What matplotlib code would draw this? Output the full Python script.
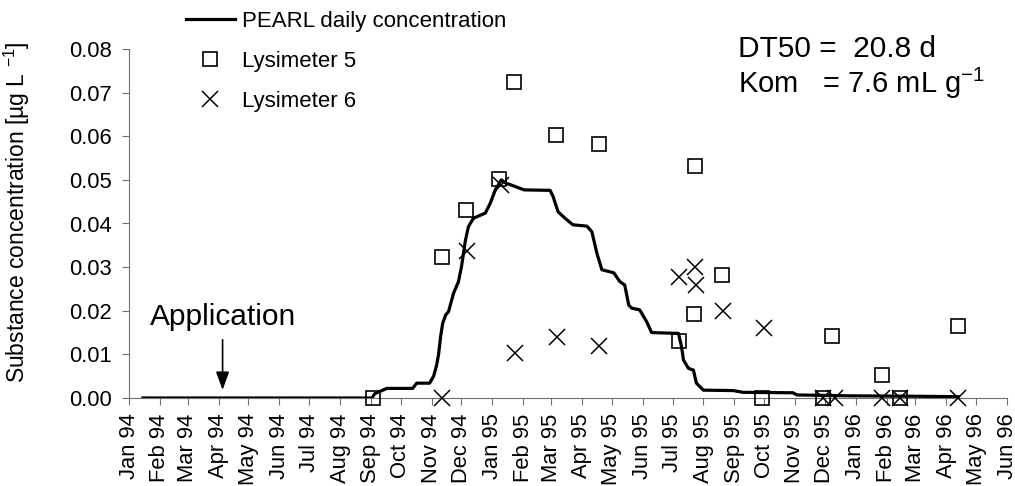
import pandas as pd
import numpy as np
import matplotlib.pyplot as plt
import matplotlib.dates as mdates

plt.rcParams['font.family'] = ['Liberation Sans', 'DejaVu Sans']

# PEARL simulated daily concentration
pearl_dates = ['1994-01-15', '1994-09-02', '1994-09-05', '1994-09-10', '1994-09-17',
               '1994-10-13', '1994-10-17', '1994-10-30', '1994-11-03', '1994-11-06',
               '1994-11-08', '1994-11-10', '1994-11-12', '1994-11-15', '1994-11-18',
               '1994-11-23', '1994-11-28', '1994-12-01', '1994-12-05', '1994-12-08',
               '1994-12-13', '1994-12-25', '1994-12-30', '1995-01-04', '1995-01-10',
               '1995-01-15', '1995-01-19', '1995-01-26', '1995-02-02', '1995-02-28',
               '1995-03-03', '1995-03-08', '1995-03-15', '1995-03-23', '1995-04-06',
               '1995-04-11', '1995-04-16', '1995-04-21', '1995-05-03', '1995-05-09',
               '1995-05-14', '1995-05-18', '1995-05-21', '1995-05-29', '1995-06-05',
               '1995-06-10', '1995-07-07', '1995-07-10', '1995-07-12', '1995-07-17',
               '1995-07-22', '1995-07-25', '1995-08-01', '1995-08-31', '1995-09-10',
               '1995-10-30', '1995-11-03', '1995-12-26', '1996-03-01', '1996-04-13']
pearl_conc = [0.0, 0.0, 0.0010, 0.0015, 0.0022,
              0.0022, 0.0034, 0.0034, 0.0050, 0.0075,
              0.0100, 0.0140, 0.0170, 0.0190, 0.0198,
              0.0240, 0.0267, 0.0301, 0.0362, 0.0393,
              0.0412, 0.0424, 0.0447, 0.0477, 0.0500,
              0.0492, 0.0489, 0.0483, 0.0477, 0.0476,
              0.0462, 0.0427, 0.0412, 0.0397, 0.0394,
              0.0381, 0.0332, 0.0294, 0.0287, 0.0267,
              0.0259, 0.0213, 0.0206, 0.0202, 0.0175,
              0.0150, 0.0148, 0.0118, 0.0087, 0.0068,
              0.0064, 0.0034, 0.0018, 0.0017, 0.0013,
              0.0012, 0.0007, 0.0005, 0.0004, 0.0003]

# Lysimeter 5 measurements
lys5_dates = ['1994-09-03', '1994-11-11', '1994-12-06', '1995-01-08', '1995-01-23',
              '1995-03-06', '1995-04-18', '1995-07-08', '1995-07-23', '1995-07-24',
              '1995-08-20', '1995-09-29', '1995-11-29', '1995-12-08', '1996-01-27',
              '1996-02-15', '1996-04-13']
lys5_conc = [0.0, 0.0324, 0.0431, 0.0502, 0.0725,
             0.0603, 0.0582, 0.0131, 0.0192, 0.0532,
             0.0281, 0.0, 0.0, 0.0142, 0.0053,
             0.0, 0.0164]

# Lysimeter 6 measurements
lys6_dates = ['1994-11-11', '1994-12-07', '1995-01-10', '1995-01-24', '1995-03-07',
              '1995-04-18', '1995-07-08', '1995-07-24', '1995-07-25', '1995-08-21',
              '1995-10-01', '1995-11-29', '1995-12-11', '1996-01-27', '1996-02-15',
              '1996-04-13']
lys6_conc = [0.0, 0.0338, 0.0489, 0.0104, 0.0139,
             0.0120, 0.0278, 0.0301, 0.0259, 0.0199,
             0.0161, 0.0, 0.0, 0.0, 0.0,
             0.0]

application_date = '1994-04-05'

fig = plt.figure(figsize=(10.15, 4.86), dpi=100)
ax = fig.add_axes([129/1015, 1 - 398/486, 878/1015, 349/486])

ax.plot(pd.to_datetime(pearl_dates), pearl_conc, color='black', lw=2.3,
        label='PEARL daily concentration', zorder=2)
ax.plot(pd.to_datetime(lys5_dates), lys5_conc, ls='none', marker='s', ms=10.5,
        mfc='none', mec='black', mew=1.2, label='Lysimeter 5', clip_on=False, zorder=3)
ax.plot(pd.to_datetime(lys6_dates), lys6_conc, ls='none', marker='x', ms=11.5,
        mec='black', mew=1.1, label='Lysimeter 6', clip_on=False, zorder=3)

# Application arrow
app = pd.to_datetime(application_date)
ax.annotate('', xy=(app, 0.0012), xytext=(app, 0.0140),
            arrowprops=dict(arrowstyle='-|>,head_length=1.1,head_width=0.4',
                            color='black', lw=1.2))
ax.text(app, 0.0186, 'Application', ha='center', va='center', fontsize=21.5)

fig.text(738/1015, 1 - 49/486, 'DT50 =  20.8 d', fontsize=21.5,
         ha='left', va='center')
fig.text(738/1015, 1 - 83/486, 'Kom   = 7.6 mL g$^{\\mathregular{-1}}$',
         fontsize=21, ha='left', va='center')

ax.set_xlim(pd.Timestamp('1994-01-01'), pd.Timestamp('1996-06-01'))
ax.set_ylim(0, 0.08)
ax.set_yticks(np.arange(0, 0.081, 0.01))
ax.yaxis.set_major_formatter(plt.FormatStrFormatter('%.2f'))
ax.xaxis.set_major_locator(mdates.MonthLocator())
ax.xaxis.set_major_formatter(mdates.DateFormatter('%b %y'))
plt.setp(ax.get_xticklabels(), rotation=90)

for side in ['top', 'right']:
    ax.spines[side].set_visible(False)
for side in ['left', 'bottom']:
    ax.spines[side].set_color('#707070')
ax.tick_params(axis='both', direction='out', length=5, color='#707070',
               labelsize=15.8, labelcolor='black')
ax.tick_params(axis='y', pad=7.5)
ax.tick_params(axis='x', pad=6)

fig.text(17/1015, 1 - 212/486, 'Substance concentration [µg L $^{\\mathregular{-1}}$]',
         fontsize=16.5, rotation=90, ha='center', va='center')

fig.legend(loc='upper left', bbox_to_anchor=(186/1015, 1 - 11/486),
           bbox_transform=fig.transFigure, frameon=False, fontsize=16,
           handlelength=2.2, handletextpad=0.3, labelspacing=0.85,
           borderpad=0, borderaxespad=0)

fig.savefig('out.png', dpi=100)
